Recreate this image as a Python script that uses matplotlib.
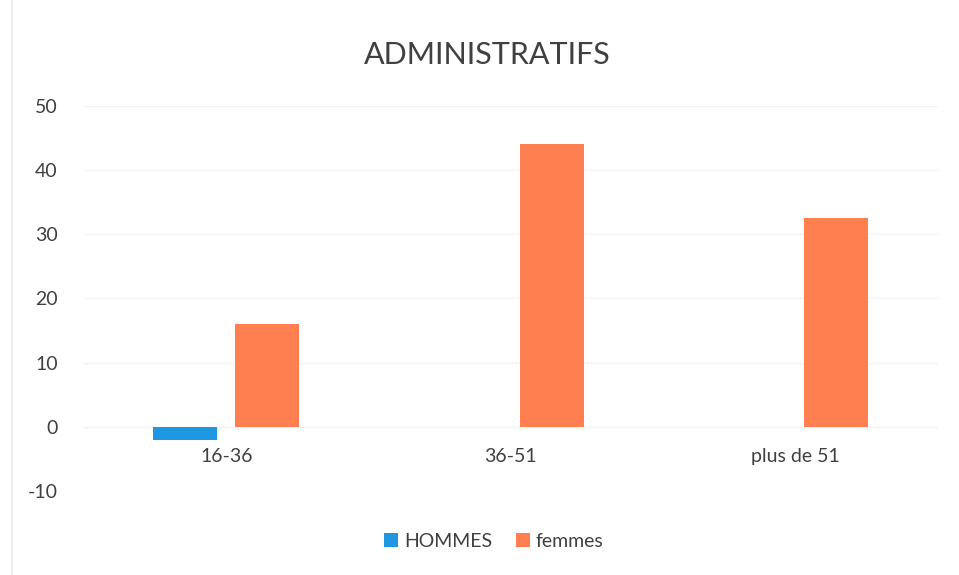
import matplotlib
matplotlib.use("Agg")
import matplotlib.pyplot as plt
import numpy as np

categories = ["16-36", "36-51", "plus de 51"]
hommes = [-2, 0, 0]
femmes = [16, 44, 32.5]
yticks = [-10, 0, 10, 20, 30, 40, 50]

plt.rcParams['font.family'] = ['Lato', 'DejaVu Sans']
text_color = '#404040'

fig = plt.figure(figsize=(9.59, 5.75), dpi=100)
ax = fig.add_axes([0.0876, 0.146, 0.890, 0.670])

x = np.arange(len(categories))
w = 0.225
off = 0.144
ax.bar(x - off, hommes, w, color='#1f96e0', label='HOMMES')
ax.bar(x + off, femmes, w, color='#ff7f50', label='femmes')

ax.spines['bottom'].set_position(('data', 0))
ax.set_xlim(-0.5, 2.5)
ax.set_ylim(-10, 50)
ax.set_yticks(yticks)
ax.set_yticklabels([str(v) for v in yticks], fontsize=14, color=text_color)
ax.tick_params(axis='y', length=0, pad=19)
ax.set_xticks(x)
ax.set_xticklabels(categories, fontsize=14, color=text_color)
ax.tick_params(axis='x', length=0, pad=15)
for s in ax.spines.values():
    s.set_visible(False)
ax.grid(axis='y', color='#f3f3f3', linewidth=1)
ax.set_axisbelow(True)

fig.text(0.508, 0.905, "ADMINISTRATIFS", ha='center', va='center', fontsize=22, color=text_color)

leg = ax.legend(loc='center', bbox_to_anchor=(0.48, -0.13), ncol=2, frameon=False,
                fontsize=14, handlelength=0.75, handleheight=0.75, handletextpad=0.3,
                columnspacing=1.2, labelcolor=text_color)

fig.add_artist(plt.Line2D([0.013, 0.013], [0.0, 1.0], color='#eeeeee', linewidth=1.5))

fig.savefig("out.png", dpi=100)
